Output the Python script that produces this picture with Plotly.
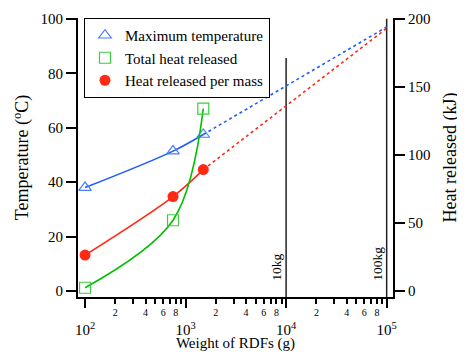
import plotly.graph_objects as go
import math

# ---- data ----
weights = [100, 750, 1500]                 # Weight of RDFs (g)
max_temp = [38.0, 51.4, 57.5]              # Maximum temperature (°C)
heat_per_mass = [13.2, 34.7, 44.6]         # Heat released per mass (°C axis)
total_heat = [2.4, 52.0, 134.0]            # Total heat released (kJ)

extrap_x = [1500, 100000]                  # dotted extrapolation
extrap_temp = [57.5, 97.0]
extrap_heat = [44.6, 96.5]

ref_weights = [10000, 100000]              # 10kg, 100kg reference lines
ref_labels = ["10kg", "100kg"]
ref_tops = [85.6, 100.0]

major_ticks = [100, 1000, 10000, 100000]
major_text = ["10<sup>2</sup>", "10<sup>3</sup>", "10<sup>4</sup>", "10<sup>5</sup>"]
even_minor = [m * 10 ** e for e in (2, 3, 4) for m in (2, 4, 6, 8)]
even_text = [str(m) for e in (2, 3, 4) for m in (2, 4, 6, 8)]
odd_minor = [m * 10 ** e for e in (2, 3, 4) for m in (3, 5, 7, 9)]

BLUE_L, BLUE_M = "#1f5cff", "#4a7dff"
GREEN_L, GREEN_M = "#00c000", "#3dcc3d"
RED = "#ff2a14"
FONT = "Liberation Serif"

ymin, ymax = -2.2, 100.3
fig = go.Figure()

# reference vertical lines
for xv, top in zip(ref_weights, ref_tops):
    fig.add_trace(go.Scatter(x=[xv, xv], y=[ymin, top], mode="lines",
                             line=dict(color="#222222", width=1.5),
                             showlegend=False, hoverinfo="skip"))

# dotted extrapolations
fig.add_trace(go.Scatter(x=extrap_x, y=extrap_temp, mode="lines",
                         line=dict(color=BLUE_L, width=1.6, dash="dot"), showlegend=False))
fig.add_trace(go.Scatter(x=extrap_x, y=extrap_heat, mode="lines",
                         line=dict(color=RED, width=1.6, dash="dot"), showlegend=False))

# smooth curves
fig.add_trace(go.Scatter(x=weights, y=max_temp, mode="lines", line_shape="spline",
                         line=dict(color=BLUE_L, width=1.6), showlegend=False))
fig.add_trace(go.Scatter(x=weights, y=heat_per_mass, mode="lines", line_shape="spline",
                         line=dict(color=RED, width=1.6), showlegend=False))
fig.add_trace(go.Scatter(x=weights, y=total_heat, mode="lines", line_shape="spline",
                         line=dict(color=GREEN_L, width=1.6), showlegend=False, yaxis="y2"))

# markers (legend entries)
fig.add_trace(go.Scatter(x=weights, y=max_temp, mode="markers", name="Maximum temperature",
                         marker=dict(symbol="triangle-up-open", size=11, color=BLUE_M,
                                     line=dict(width=1.2))))
fig.add_trace(go.Scatter(x=weights, y=total_heat, mode="markers", name="Total heat released",
                         yaxis="y2",
                         marker=dict(symbol="square-open", size=11, color=GREEN_M,
                                     line=dict(width=1.2))))
fig.add_trace(go.Scatter(x=weights, y=heat_per_mass, mode="markers", name="Heat released per mass",
                         marker=dict(symbol="circle", size=11, color=RED)))

# dummy trace to activate the major-tick x axis
fig.add_trace(go.Scatter(x=[100], y=[None], xaxis="x2", showlegend=False, hoverinfo="skip"))

xr = [1.93, 5.063]
annotations = []
for xv, lab in zip(ref_weights, ref_labels):
    annotations.append(dict(x=math.log10(xv), y=2.9, xref="x", yref="y", text=lab,
                            textangle=-90, showarrow=False, xanchor="center", yanchor="bottom",
                            xshift=-10, font=dict(family=FONT, size=13.5, color="black")))

# page has an 8px body margin: figure is shifted by 8px right/down
fig.update_layout(
    width=457, height=344,
    margin=dict(l=70, r=72, t=10, b=55),
    paper_bgcolor="white", plot_bgcolor="white",
    font=dict(family=FONT, size=15, color="black"),
    showlegend=True,
    legend=dict(x=0.019, y=1.0, xanchor="left", yanchor="top",
                bordercolor="black", borderwidth=1, bgcolor="white",
                font=dict(family=FONT, size=15), tracegroupgap=0),
    xaxis=dict(type="log", range=xr, showgrid=False, zeroline=False, automargin=False,
               showline=True, linecolor="black", linewidth=2,
               tickmode="array", tickvals=even_minor, ticktext=even_text,
               ticks="outside", ticklen=5, tickwidth=1.5, tickcolor="black",
               tickfont=dict(size=10), anchor="y",
               minor=dict(tickmode="array", tickvals=odd_minor, ticks="outside",
                          ticklen=5, tickwidth=1.5, tickcolor="black", showgrid=False),
               title=dict(text="Weight of RDFs (g)", standoff=23, font=dict(size=15))),
    xaxis2=dict(type="log", range=xr, overlaying="x", side="bottom", anchor="y",
                showgrid=False, zeroline=False, showline=False, automargin=False,
                tickmode="array", tickvals=major_ticks, ticktext=major_text,
                ticks="outside", ticklen=10, tickwidth=1.5, tickcolor="black",
                tickfont=dict(size=15), ticklabelstandoff=9),
    yaxis=dict(range=[ymin, ymax], showgrid=False, zeroline=False, automargin=False,
               showline=True, linecolor="black", linewidth=2,
               tickmode="array", tickvals=[0, 20, 40, 60, 80, 100],
               ticks="outside", ticklen=10, tickwidth=1.5, tickcolor="black",
               title=dict(text="Temperature (<sup>o</sup>C)", standoff=7)),
    yaxis2=dict(range=[2 * ymin, 2 * ymax], overlaying="y", side="right", anchor="x",
                showgrid=False, zeroline=False, automargin=False,
                showline=True, linecolor="black", linewidth=2,
                tickmode="array", tickvals=[0, 50, 100, 150, 200],
                ticks="outside", ticklen=10, tickwidth=1.5, tickcolor="black",
                title=dict(text="Heat released (kJ)", standoff=14)),
    annotations=annotations,
)

fig.write_html("out.html")
